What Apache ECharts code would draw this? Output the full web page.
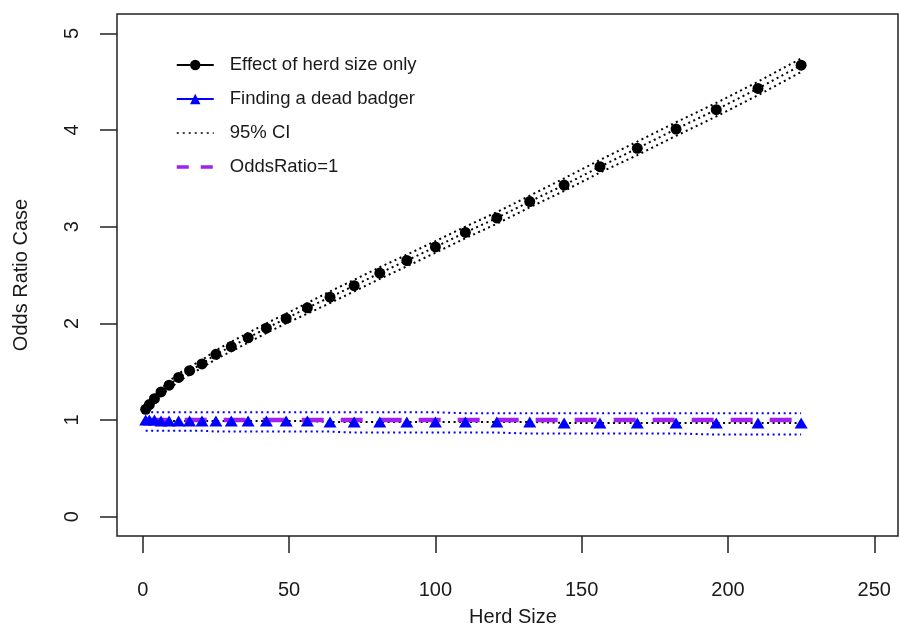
<!DOCTYPE html>
<html lang="en">
<head>
    <meta charset="UTF-8">
    <title>Odds Ratio Case</title>
    <script src="https://cdn.jsdelivr.net/npm/echarts@6.0.0/dist/echarts.min.js"></script>
    <style>
        *{margin:0;padding:0;box-sizing:border-box;}
        body,html{width:899px;height:627px;background:#fff;}
        #main{width:899px;height:627px;}
    </style>
</head>
<body>
<div id="main"></div>
<script>
    // herd sizes where the model was evaluated
    var herdSize = [1, 2.25, 4, 6.25, 9, 12.25, 16, 20.25, 25, 30.25, 36, 42.25, 49, 56.25, 64, 72.25,
        81, 90.25, 100, 110.25, 121, 132.25, 144, 156.25, 169, 182.25, 196, 210.25, 225]
    // effect of herd size only
    var effectOR    = [1.11,1.16,1.22,1.29,1.36,1.44,1.51,1.58,1.68,1.76,1.85,1.95,2.05,2.16,2.27,2.39,2.52,2.65,2.79,2.94,3.09,3.26,3.43,3.62,3.81,4.01,4.21,4.43,4.67]
    var effectUpper = [1.13,1.19,1.25,1.32,1.40,1.48,1.55,1.62,1.72,1.81,1.90,2.00,2.10,2.21,2.33,2.45,2.58,2.71,2.85,3.00,3.15,3.32,3.50,3.69,3.88,4.08,4.28,4.50,4.74]
    var effectLower = [1.09,1.14,1.19,1.26,1.32,1.40,1.47,1.54,1.63,1.71,1.80,1.90,2.00,2.10,2.21,2.33,2.46,2.59,2.73,2.88,3.03,3.20,3.37,3.56,3.74,3.94,4.14,4.36,4.60]
    // finding a dead badger
    var badgerOR    = [1.00,1.00,1.00,0.99,0.99,0.99,0.99,0.99,0.99,0.99,0.99,0.99,0.99,0.99,0.98,0.98,0.98,0.98,0.98,0.98,0.98,0.98,0.97,0.97,0.97,0.97,0.97,0.97,0.97]
    var badgerUpper = [1.08,1.08,1.08,1.08,1.08,1.08,1.08,1.08,1.08,1.08,1.08,1.08,1.08,1.08,1.08,1.08,1.08,1.08,1.08,1.07,1.07,1.07,1.07,1.07,1.07,1.07,1.07,1.07,1.07]
    var badgerLower = [0.89,0.89,0.89,0.89,0.89,0.89,0.89,0.89,0.88,0.88,0.88,0.88,0.88,0.88,0.88,0.87,0.87,0.87,0.87,0.87,0.87,0.86,0.86,0.86,0.86,0.86,0.85,0.85,0.85]
    // reference line
    var refX = [1, 225]
    var refY = [1, 1]
    // axis ticks
    var xTicks = [0, 50, 100, 150, 200, 250]
    var yTicks = [0, 1, 2, 3, 4, 5]

    function pairs(xs, ys){
        return xs.map(function(x, i){ return [x, ys[i]] })
    }

    var font = "'Liberation Sans', Arial, sans-serif"
    var ink = '#1a1a1a'
    var dots = [2, 3.5]

    var myCharts = echarts.init(document.getElementById('main'))
    var option = {
        animation: false,
        textStyle: {fontFamily: font},
        grid: {left: 117, top: 14, right: 1, bottom: 91, outerBoundsMode: 'none', show: true, borderColor: '#222', borderWidth: 1.5, backgroundColor: 'transparent'},
        legend: {
            orient: 'vertical', left: 175, top: 55, padding: 0,
            itemWidth: 37, itemHeight: 13, itemGap: 14,
            selectedMode: false,
            textStyle: {fontSize: 18.5, color: ink, fontFamily: font, lineHeight: 20, padding: [0, 0, 0, 11]},
            data: [
                {name: 'Effect of herd size only', lineStyle: {type: 'solid', width: 2, color: '#000'}, itemStyle: {color: '#000'}},
                {name: 'Finding a dead badger', lineStyle: {type: 'solid', width: 2, color: '#0000ff'}, itemStyle: {color: '#0000ff'}},
                {name: '95% CI', lineStyle: {type: [2, 4], width: 1.5, color: '#000'}, itemStyle: {opacity: 0}},
                {name: 'OddsRatio=1', lineStyle: {type: [12, 12], width: 3.5, color: '#a020f0'}, itemStyle: {opacity: 0}}
            ]
        },
        xAxis: {
            type: 'value', min: -8.8, max: 258.1,
            name: 'Herd Size', nameLocation: 'middle', nameGap: 71,
            nameTextStyle: {fontSize: 20, color: ink, padding: [0, 0, 0, 11]},
            axisLine: {show: false, onZero: false},
            axisTick: {show: true, customValues: xTicks, length: 17, lineStyle: {color: '#222', width: 1.5}},
            axisLabel: {customValues: xTicks, fontSize: 20, color: ink, margin: 44},
            splitLine: {show: false}
        },
        yAxis: {
            type: 'value', min: -0.2, max: 5.2,
            name: 'Odds Ratio Case', nameLocation: 'middle', nameGap: 85.5, nameRotate: 90,
            nameTextStyle: {fontSize: 20, color: ink},
            axisLine: {show: false, onZero: false},
            axisTick: {show: true, customValues: yTicks, length: 17, lineStyle: {color: '#222', width: 1.5}},
            axisLabel: {customValues: yTicks, fontSize: 20, color: ink, rotate: 90, margin: 35},
            splitLine: {show: false}
        },
        series: [
            {
                name: '95% CI', type: 'line', data: pairs(herdSize, effectUpper), symbol: 'none', silent: true,
                lineStyle: {color: '#000', width: 2, type: dots}
            },
            {
                name: '95% CI', type: 'line', data: pairs(herdSize, effectLower), symbol: 'none', silent: true,
                lineStyle: {color: '#000', width: 2, type: dots}
            },
            {
                name: 'Effect of herd size only', type: 'line', data: pairs(herdSize, effectOR),
                symbol: 'circle', symbolSize: 11, showAllSymbol: true, silent: true,
                lineStyle: {color: '#000', width: 2, type: dots},
                itemStyle: {color: '#000'}
            },
            {
                name: '95% CI', type: 'line', data: pairs(herdSize, badgerUpper), symbol: 'none', silent: true,
                lineStyle: {color: '#0000ff', width: 2, type: dots}
            },
            {
                name: '95% CI', type: 'line', data: pairs(herdSize, badgerLower), symbol: 'none', silent: true,
                lineStyle: {color: '#0000ff', width: 2, type: dots}
            },
            {
                name: 'Finding a dead badger', type: 'line', data: pairs(herdSize, badgerOR),
                symbol: 'triangle', symbolSize: [13, 11], showAllSymbol: true, silent: true,
                lineStyle: {color: '#000', width: 2, type: dots},
                itemStyle: {color: '#0000ff'}
            },
            {
                name: 'OddsRatio=1', type: 'line', data: pairs(refX, refY), symbol: 'none', silent: true,
                lineStyle: {color: '#a020f0', width: 4.5, type: [22, 17]}
            }
        ]
    }
    myCharts.setOption(option)
</script>
</body>
</html>
